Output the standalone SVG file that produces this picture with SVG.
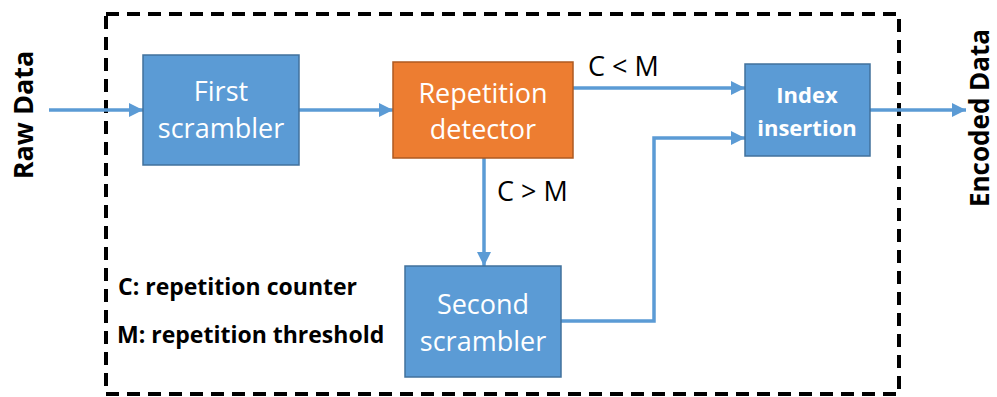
<svg xmlns="http://www.w3.org/2000/svg" width="997" height="397" viewBox="0 0 997 397">
  <style>
    .box-blue { fill: #5B9BD5; stroke: #41719C; stroke-width: 1.5; }
    .box-orange { fill: #ED7D31; stroke: #AE5A21; stroke-width: 1.5; }
    .label { font-family: "Open Sans", "Noto Sans", sans-serif; fill: #fff; text-anchor: middle; }
    .note { font-family: "Open Sans", "Noto Sans", sans-serif; fill: #000; }
    .wire { fill: none; stroke: #5B9BD5; stroke-width: 3.5; }
    .frame { fill: none; stroke: #000; stroke-width: 4; stroke-dasharray: 13 8; }
  </style>
  <defs>
    <marker id="arrow" viewBox="0 0 10 10" refX="10" refY="5" markerWidth="4" markerHeight="4" markerUnits="strokeWidth" orient="auto">
      <path d="M0,0 L10,5 L0,10 z" fill="#5B9BD5"/>
    </marker>
  </defs>

  <rect class="frame" x="106" y="14" width="793" height="380"/>

  <g id="connectors">
    <path class="wire" d="M49,110 H143" marker-end="url(#arrow)"/>
    <path class="wire" d="M299,110 H393" marker-end="url(#arrow)"/>
    <path class="wire" d="M573,88 H745" marker-end="url(#arrow)"/>
    <path class="wire" d="M484,158 V266" marker-end="url(#arrow)"/>
    <path class="wire" d="M561,321 H654 V138 H745" marker-end="url(#arrow)"/>
    <path class="wire" d="M870,110 H966" marker-end="url(#arrow)"/>
  </g>

  <g id="first-scrambler">
    <rect class="box-blue" x="143" y="55" width="156" height="110"/>
    <text class="label" font-size="27" x="221" y="101">First</text>
    <text class="label" font-size="27" x="221" y="138">scrambler</text>
  </g>

  <g id="repetition-detector">
    <rect class="box-orange" x="393" y="62" width="180" height="96"/>
    <text class="label" font-size="27" x="483" y="103">Repetition</text>
    <text class="label" font-size="27" x="483" y="139">detector</text>
  </g>

  <g id="index-insertion">
    <rect class="box-blue" x="745" y="64" width="125" height="92"/>
    <text class="label" font-size="22" font-weight="bold" x="807" y="103">Index</text>
    <text class="label" font-size="22" font-weight="bold" x="807" y="136">insertion</text>
  </g>

  <g id="second-scrambler">
    <rect class="box-blue" x="405" y="266" width="156" height="111"/>
    <text class="label" font-size="27" x="483" y="314">Second</text>
    <text class="label" font-size="27" x="483" y="351">scrambler</text>
  </g>

  <g id="labels">
    <text class="note" font-size="27" x="588" y="76">C &lt; M</text>
    <text class="note" font-size="27" x="497" y="201">C &gt; M</text>
    <text class="note" font-size="23" font-weight="bold" x="118" y="295">C: repetition counter</text>
    <text class="note" font-size="23" font-weight="bold" x="117" y="343">M: repetition threshold</text>
    <text class="note" font-size="27" font-weight="bold" text-anchor="middle" transform="translate(33,115) rotate(-90)">Raw Data</text>
    <text class="note" font-size="26" font-weight="bold" text-anchor="middle" transform="translate(989,118) rotate(-90)">Encoded Data</text>
  </g>
</svg>
